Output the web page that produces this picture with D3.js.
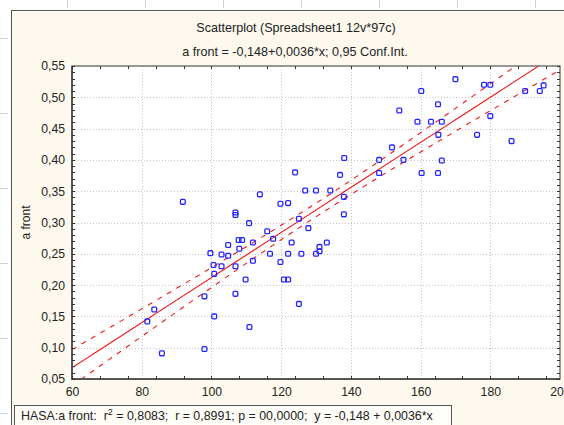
<!DOCTYPE html>
<html>
<head>
<meta charset="utf-8">
<script src="https://cdn.jsdelivr.net/npm/d3@7"></script>
<style>
  html, body { margin: 0; padding: 0; background: #ffffff; }
  svg { display: block; font-family: "Liberation Sans", Arial, sans-serif; }
</style>
</head>
<body>
<svg id="chart" width="564" height="425"></svg>
<script>
// HASA (x) and a front (y) for each plotted case
const hasa = [
  138.1, 124.0, 136.9, 113.9, 126.9, 130.0, 134.1, 91.8, 119.8, 122.0,
  138.0, 138.0, 106.9, 106.9, 110.8, 125.1, 127.8, 116.0, 117.7, 107.8,
  108.8, 111.9, 104.8, 123.0, 133.1, 108.0, 131.0, 131.0, 99.7, 102.9,
  104.8, 116.8, 122.0, 125.8, 130.0, 100.6, 102.9, 106.9, 111.9, 119.8,
  100.8, 109.8, 120.8, 122.0, 98.0, 106.9, 83.6, 125.1, 81.6, 100.8,
  110.9, 85.8, 98.0,
  170.0, 178.2, 180.0, 160.2, 190.0, 194.2, 195.3, 165.0, 153.9, 180.0,
  159.1, 163.0, 166.1, 165.1, 176.2, 186.1, 151.8, 148.1, 155.1, 166.1,
  148.1, 160.3, 165.0
];
const aFront = [
  0.403, 0.380, 0.376, 0.345, 0.351, 0.351, 0.351, 0.333, 0.330, 0.331,
  0.341, 0.313, 0.316, 0.312, 0.299, 0.306, 0.291, 0.286, 0.274, 0.272,
  0.272, 0.268, 0.264, 0.268, 0.268, 0.258, 0.261, 0.254, 0.251, 0.249,
  0.247, 0.250, 0.250, 0.250, 0.250, 0.232, 0.230, 0.230, 0.239, 0.237,
  0.218, 0.209, 0.209, 0.209, 0.182, 0.186, 0.161, 0.170, 0.142, 0.150,
  0.133, 0.091, 0.098,
  0.529, 0.520, 0.520, 0.510, 0.510, 0.510, 0.519, 0.489, 0.479, 0.470,
  0.461, 0.461, 0.461, 0.440, 0.440, 0.430, 0.420, 0.400, 0.400, 0.399,
  0.379, 0.379, 0.379
];

// Fitted line coefficients (as reported), number of cases in the sheet, 95% t critical value
const intercept = -0.148;
const slope = 0.0036;
const caseCount = 97;
const tCrit = 1.985;

// Axis ticks
const xTicks = [60, 80, 100, 120, 140, 160, 180, 200];
const yTicks = [0.05, 0.10, 0.15, 0.20, 0.25, 0.30, 0.35, 0.40, 0.45, 0.50, 0.55];
const xMinorStep = 8;
const yMinorStep = 0.01;

// Text
const titleText = "Scatterplot (Spreadsheet1 12v*97c)";
const subtitleText = "a front = -0,148+0,0036*x; 0,95 Conf.Int.";
const yTitle = "a front";
const statsParts = ["HASA:a front:  r", "2", " = 0,8083;  r = 0,8991; p = 00,0000;  y = -0,148 + 0,0036*x"];

const fmt = v => d3.format(".2f")(v).replace(".", ",");

const svg = d3.select("#chart");
const W = 564, H = 425;
const plot = { left: 72, top: 66, right: 560, bottom: 379 };

const x = d3.scaleLinear().domain([60, 200]).range([plot.left, plot.right]);
const y = d3.scaleLinear().domain([0.05, 0.55]).range([plot.bottom, plot.top]);

// faint sheet ruler marks around the graph window
const ruler = svg.append("g").attr("stroke", "#c9d3e2").attr("stroke-width", 1);
d3.range(67, W, 78).forEach(px => ruler.append("line").attr("x1", px + 0.5).attr("x2", px + 0.5).attr("y1", 0).attr("y2", 8));
d3.range(38, H, 75).forEach(py => ruler.append("line").attr("x1", 0).attr("x2", 8).attr("y1", py + 0.5).attr("y2", py + 0.5));

// graph window panel
svg.append("rect")
  .attr("x", 11.5).attr("y", 10.5).attr("width", 600).attr("height", 450)
  .attr("fill", "#fef9ee").attr("stroke", "#555").attr("stroke-width", 1);

// titles
svg.append("text").attr("x", 296).attr("y", 32).attr("text-anchor", "middle")
  .attr("font-size", 12.6).attr("fill", "#222").text(titleText);
svg.append("text").attr("x", 295).attr("y", 56).attr("text-anchor", "middle")
  .attr("font-size", 12.6).attr("fill", "#222").text(subtitleText);

// plot area
svg.append("rect")
  .attr("x", plot.left).attr("y", plot.top)
  .attr("width", plot.right - plot.left).attr("height", plot.bottom - plot.top)
  .attr("fill", "#ffffff");

// grid
const grid = svg.append("g").attr("stroke", "#c4c4c4").attr("stroke-width", 1).attr("stroke-dasharray", "1,2");
xTicks.slice(1, -1).forEach(v => grid.append("line")
  .attr("x1", Math.round(x(v)) + 0.5).attr("x2", Math.round(x(v)) + 0.5)
  .attr("y1", plot.top).attr("y2", plot.bottom));
yTicks.slice(1, -1).forEach(v => grid.append("line")
  .attr("y1", Math.round(y(v)) + 0.5).attr("y2", Math.round(y(v)) + 0.5)
  .attr("x1", plot.left).attr("x2", plot.right));

// clip for fitted curves
svg.append("clipPath").attr("id", "plotClip").append("rect")
  .attr("x", plot.left).attr("y", plot.top)
  .attr("width", plot.right - plot.left).attr("height", plot.bottom - plot.top);

// regression line with 95% confidence band for the mean
const xbar = d3.mean(hasa);
const varX = d3.variance(hasa);
const resid = hasa.map((v, i) => aFront[i] - (intercept + slope * v));
const s = Math.sqrt(d3.sum(resid, r => r * r) / (hasa.length - 2));
const half = xv => tCrit * s * Math.sqrt(1 / caseCount + (xv - xbar) ** 2 / ((caseCount - 1) * varX));
const xs = d3.range(60, 200.01, 0.5);

const fitG = svg.append("g").attr("clip-path", "url(#plotClip)").attr("fill", "none").attr("stroke", "#f01818");
const line = d3.line().x(d => x(d[0])).y(d => y(d[1]));
fitG.append("path").attr("stroke-width", 1.1)
  .attr("d", line(xs.map(v => [v, intercept + slope * v])));
fitG.append("path").attr("stroke-width", 1.1).attr("stroke-dasharray", "5,6")
  .attr("d", line(xs.map(v => [v, intercept + slope * v + half(v)])));
fitG.append("path").attr("stroke-width", 1.1).attr("stroke-dasharray", "5,6")
  .attr("d", line(xs.map(v => [v, intercept + slope * v - half(v)])));

// points
const ms = 4.8;
svg.append("g").selectAll("rect").data(hasa.map((v, i) => [v, aFront[i]])).join("rect")
  .attr("x", d => x(d[0]) - ms / 2).attr("y", d => y(d[1]) - ms / 2)
  .attr("width", ms).attr("height", ms).attr("rx", 1.2)
  .attr("fill", "none").attr("stroke", "#2424ff").attr("stroke-width", 1.3);

// frame
svg.append("rect")
  .attr("x", plot.left).attr("y", plot.top)
  .attr("width", plot.right - plot.left).attr("height", plot.bottom - plot.top)
  .attr("fill", "none").attr("stroke", "#555").attr("stroke-width", 1.2);
svg.append("line").attr("x1", plot.left).attr("x2", plot.left).attr("y1", plot.top).attr("y2", plot.bottom + 1)
  .attr("stroke", "#555").attr("stroke-width", 2);
svg.append("line").attr("x1", plot.left).attr("x2", plot.right).attr("y1", plot.bottom).attr("y2", plot.bottom)
  .attr("stroke", "#555").attr("stroke-width", 2);

// inward ticks on all four sides
const tk = svg.append("g").attr("stroke", "#333").attr("stroke-width", 1);
d3.range(60, 200.01, xMinorStep).forEach(v => {
  const px = Math.round(x(v)) + 0.5;
  tk.append("line").attr("x1", px).attr("x2", px).attr("y1", plot.bottom).attr("y2", plot.bottom - 3);
  tk.append("line").attr("x1", px).attr("x2", px).attr("y1", plot.top).attr("y2", plot.top + 3);
});
d3.range(5, 55.01, yMinorStep * 100).forEach(k => {
  const py = Math.round(y(k / 100)) + 0.5;
  tk.append("line").attr("y1", py).attr("y2", py).attr("x1", plot.left).attr("x2", plot.left + 3);
  tk.append("line").attr("y1", py).attr("y2", py).attr("x1", plot.right).attr("x2", plot.right - 3);
});

// axis labels via d3 axes (lines hidden, labels only)
const xAxis = svg.append("g").attr("transform", `translate(0,${plot.bottom})`)
  .call(d3.axisBottom(x).tickValues(xTicks).tickSize(0).tickPadding(8).tickFormat(d3.format("d")));
const yAxis = svg.append("g").attr("transform", `translate(${plot.left},0)`)
  .call(d3.axisLeft(y).tickValues(yTicks).tickSize(0).tickPadding(7).tickFormat(fmt));
[xAxis, yAxis].forEach(g => {
  g.select(".domain").remove();
  g.selectAll("text").attr("font-size", 12.2).attr("fill", "#222")
    .attr("font-family", '"Liberation Sans", Arial, sans-serif');
});

// y axis title
svg.append("text")
  .attr("transform", `translate(30,${(plot.top + plot.bottom) / 2}) rotate(-90)`)
  .attr("text-anchor", "middle").attr("font-size", 12).attr("fill", "#222").text(yTitle);

// statistics box
svg.append("rect").attr("x", 14.5).attr("y", 405.5).attr("width", 437).attr("height", 30)
  .attr("fill", "#fffdf7").attr("stroke", "#555").attr("stroke-width", 1);
const st = svg.append("text").attr("x", 21).attr("y", 420).attr("font-size", 12.4)
  .attr("fill", "#222").style("white-space", "pre");
st.append("tspan").text(statsParts[0]);
st.append("tspan").attr("dy", -5).attr("font-size", 9).text(statsParts[1]);
st.append("tspan").attr("dy", 5).text(statsParts[2]);
</script>
</body>
</html>
